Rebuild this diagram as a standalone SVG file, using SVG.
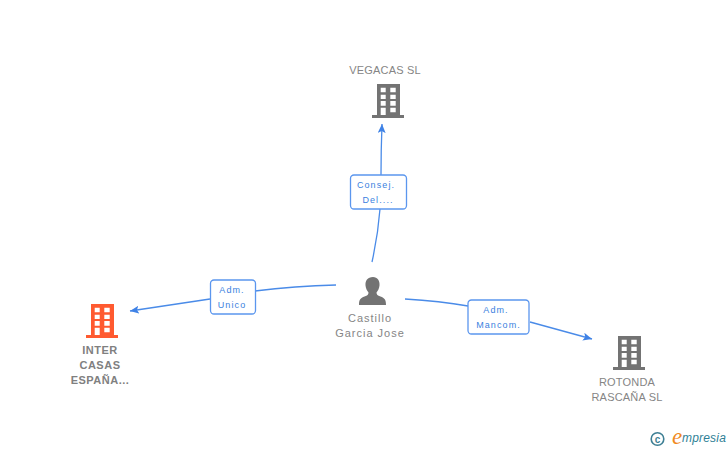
<svg xmlns="http://www.w3.org/2000/svg" width="728" height="450" viewBox="0 0 728 450">
<style>
text{font-family:"Liberation Sans",Arial,sans-serif;text-anchor:middle}
.n{font-size:11px;fill:#858585;letter-spacing:.2px}
.p{font-size:11px;fill:#858585;letter-spacing:1px}
.b{font-size:11px;fill:#808080;font-weight:bold;letter-spacing:.5px}
.l{font-size:9px;fill:#3b7fe0;letter-spacing:1.1px}
.c{fill:none;stroke:#4a8be8;stroke-width:1.3}
.box{fill:#fff;stroke:#5b96ee;stroke-width:1.3}
</style>
<defs>
<marker id="a" markerWidth="10" markerHeight="10" refX="9" refY="4" orient="auto" markerUnits="userSpaceOnUse"><path d="M0 0L9 4L0 8L2 4Z" fill="#3f82e6"/></marker>
<g id="bld"><path fill-rule="evenodd" d="M-11 -17H12V14H16V17H-16V14H-11ZM-7.300 -13.300V-8.700H-2.300V-13.300ZM2.300 -13.300V-8.700H7.700V-13.300ZM-7.300 -6.300V-2H-2.300V-6.300ZM2.300 -6.300V-2H7.700V-6.300ZM-7.300 0V4.700H-2.300V0ZM2.300 0V4.700H7.700V0ZM-7.300 6.700V14H-2.300V6.700ZM2.300 6.700V11.300H7.700V6.700Z"/></g>
</defs>
<g id="connectors">
<path class="c" d="M372 262Q378 235 380 209"/>
<path class="c" d="M381 175Q381 150 382 124" marker-end="url(#a)"/>
<path class="c" d="M336 285Q295 286 255 291"/>
<path class="c" d="M210 299L130 311" marker-end="url(#a)"/>
<path class="c" d="M405 299Q440 301 468 306"/>
<path class="c" d="M530 322L592 339" marker-end="url(#a)"/>
</g>
<g id="vegacas"><use href="#bld" x="388" y="101" fill="#737373"/><text class="n" x="385" y="74">VEGACAS SL</text></g>
<g id="castillo">
<path fill="#737373" d="M373 277c-5.500 0-8 4-7.500 8.500c.3 3 1.500 5 3 7c0 2-1 3-4 4c-4 1.500-5.500 3-5.500 8.500h27c0-5.500-1.500-7-5.500-8.500c-3-1-4-2-4-4c1.500-2 2.700-4 3-7c.5-4.500-2-8.500-6.500-8.500z"/>
<text class="p" x="370" y="322">Castillo</text><text class="p" x="370" y="337">Garcia Jose</text></g>
<g id="inter"><use href="#bld" x="102" y="321" fill="#ff5a30"/>
<text class="b" x="100" y="354">INTER</text><text class="b" x="100" y="369">CASAS</text><text class="b" x="100" y="384">ESPAÑA...</text></g>
<g id="rotonda"><use href="#bld" x="629" y="353" fill="#737373"/>
<text class="n" x="627" y="386">ROTONDA</text><text class="n" x="627" y="401">RASCAÑA SL</text></g>
<g id="edge-consej"><rect class="box" x="350.500" y="175" width="56" height="34" rx="3.500"/><text class="l" x="376" y="188">Consej.</text><text class="l" x="378" y="203">Del....</text></g>
<g id="edge-unico"><rect class="box" x="210.500" y="280" width="45" height="34" rx="3.500"/><text class="l" x="232" y="293">Adm.</text><text class="l" x="232" y="308">Unico</text></g>
<g id="edge-mancom"><rect class="box" x="468" y="300" width="61" height="34" rx="3.500"/><text class="l" x="496" y="313">Adm.</text><text class="l" x="498.500" y="328">Mancom.</text></g>
<g id="logo"><circle cx="657.500" cy="439" r="6.300" fill="none" stroke="#3e7f94" stroke-width="1.600"/><text x="657.500" y="442.500" style="font-size:10px;font-weight:bold;fill:#3e7f94">c</text>
<text x="677" y="444" style="font-size:23px;font-style:italic;fill:#f08a1e;font-family:'Liberation Serif',serif">e</text>
<text x="704" y="442" style="font-size:12px;font-style:italic;fill:#2f7f96;letter-spacing:.2px">mpresia</text></g>
</svg>
